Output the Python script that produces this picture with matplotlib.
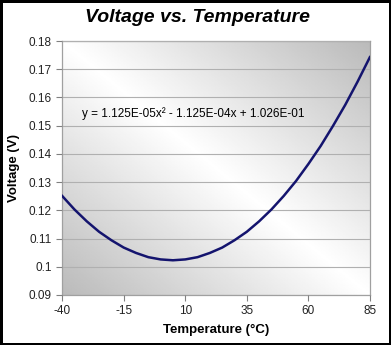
import numpy as np
import matplotlib
matplotlib.use("Agg")
import matplotlib.pyplot as plt

plt.rcParams['font.family'] = ['Liberation Sans', 'DejaVu Sans']
plt.rcParams['axes.unicode_minus'] = False

# values, every 5 degrees
temp = [-40, -35, -30, -25, -20, -15, -10, -5, 0, 5, 10, 15, 20, 25, 30,
        35, 40, 45, 50, 55, 60, 65, 70, 75, 80, 85]
volt = [0.1251, 0.1203, 0.1161, 0.1124, 0.1094, 0.1068, 0.1049, 0.1034,
        0.1026, 0.1023, 0.1026, 0.1034, 0.1049, 0.1068, 0.1094, 0.1124,
        0.1161, 0.1203, 0.1251, 0.1304, 0.1364, 0.1428, 0.1499, 0.1574,
        0.1656, 0.1743]
xticks = [-40, -15, 10, 35, 60, 85]
yticks = [0.09, 0.1, 0.11, 0.12, 0.13, 0.14, 0.15, 0.16, 0.17, 0.18]
ytick_labels = ['0.09', '0.1', '0.11', '0.12', '0.13', '0.14', '0.15', '0.16', '0.17', '0.18']
equation = 'y = 1.125E-05x² - 1.125E-04x + 1.026E-01'

fig = plt.figure(figsize=(3.91, 3.45), dpi=100)
fig.patch.set_facecolor('white')
fig.patch.set_edgecolor('black')
fig.patch.set_linewidth(2.5)
ax = fig.add_axes([0.159, 0.145, 0.787, 0.736])

# diagonal gradient background: white from top-left to bottom-right
u = np.linspace(0, 1, 200)
U, W = np.meshgrid(u, u)
shade = 1 - 0.27 * np.abs(U - W)
ax.imshow(shade, cmap='gray', vmin=0, vmax=1, extent=[0, 1, 0, 1],
          transform=ax.transAxes, aspect='auto', zorder=0, interpolation='bilinear')

ax.set_xlim(-40, 85)
ax.set_ylim(0.09, 0.18)
ax.set_xticks(xticks)
ax.set_yticks(yticks)
ax.set_yticklabels(ytick_labels)
ax.grid(axis='y', color='#b0b0b0', linewidth=0.8, zorder=1)
ax.set_axisbelow(False)

ax.plot(temp, volt, color='#14146e', linewidth=1.8, zorder=3)

for s in ax.spines.values():
    s.set_color('#a0a0a0')
    s.set_linewidth(0.9)
ax.tick_params(axis='both', colors='#808080', labelcolor='#222222', labelsize=8.5,
               length=4, width=0.8, direction='out')

ax.text(0.065, 0.70, equation, transform=ax.transAxes, fontsize=8.5, color='black', zorder=4)

fig.text(0.505, 0.95, 'Voltage vs. Temperature', fontsize=14, fontweight='bold',
         style='italic', ha='center', va='center')
ax.set_xlabel('Temperature (°C)', fontsize=9.5, fontweight='bold', labelpad=5)
ax.set_ylabel('Voltage (V)', fontsize=9.5, fontweight='bold', labelpad=6)

fig.savefig('out.png', dpi=100)
